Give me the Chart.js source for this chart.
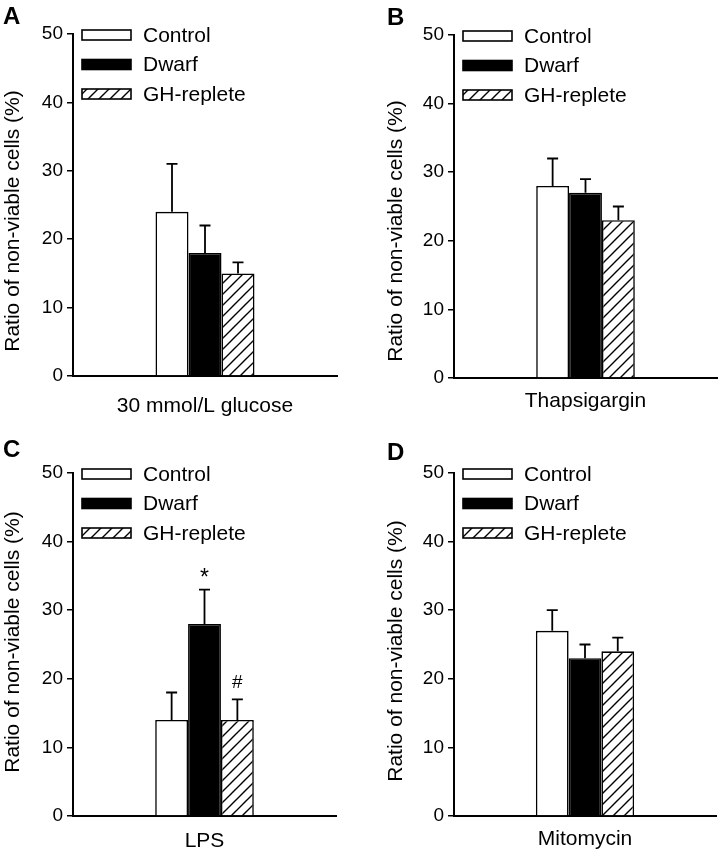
<!DOCTYPE html>
<html>
<head>
<meta charset="utf-8">
<script src="https://cdn.jsdelivr.net/npm/chart.js@4/dist/chart.umd.min.js"></script>
<style>
  html, body { margin: 0; padding: 0; background: #fff; }
  #wrap { position: relative; width: 720px; height: 853px; background: #fff; }
  canvas { position: absolute; }
</style>
</head>
<body>
<div id="wrap">
  <canvas id="pA" width="360" height="420" style="left:0;top:0"></canvas>
  <canvas id="pB" width="360" height="420" style="left:360px;top:0"></canvas>
  <canvas id="pC" width="360" height="433" style="left:0;top:420px"></canvas>
  <canvas id="pD" width="360" height="433" style="left:360px;top:420px"></canvas>
</div>
<script>
// ---------------- data ----------------
const panelLetters = ['A', 'B', 'C', 'D'];
const treatments = ['30 mmol/L glucose', 'Thapsigargin', 'LPS', 'Mitomycin'];
const groupNames = ['Control', 'Dwarf', 'GH-replete'];
const controlMean = [24, 28, 14, 27];
const controlErr  = [7, 4, 4, 3];
const dwarfMean   = [18, 27, 28, 23];
const dwarfErr    = [4, 2, 5, 2];
const ghMean      = [15, 23, 14, 24];
const ghErr       = [1.6, 2, 3, 2];
const controlMarks = ['', '', '', ''];
const dwarfMarks   = ['', '', '*', ''];
const ghMarks      = ['', '', '#', ''];
const yMin = 0, yMax = 50, yStep = 10;
const yTitle = 'Ratio of non-viable cells (%)';

// ---------------- layout (positions only) ----------------
const panelLayout = [
  { id: 'pA', w: 360, h: 420, scaleLeft: 0,  left: 73, top: 34, right: 337, bottom: 376, lx: 3,  ly: 24, xPad: 18, tx: 13, ty: 221 },
  { id: 'pB', w: 360, h: 420, scaleLeft: 23, left: 94, top: 35, right: 357, bottom: 378, lx: 27, ly: 25, xPad: 11, tx: 36, ty: 231 },
  { id: 'pC', w: 360, h: 433, scaleLeft: 0,  left: 73, top: 53, right: 336, bottom: 396, lx: 3,  ly: 37, xPad: 13, tx: 13, ty: 222 },
  { id: 'pD', w: 360, h: 433, scaleLeft: 23, left: 94, top: 53, right: 356, bottom: 396, lx: 27, ly: 40, xPad: 11, tx: 36, ty: 231 }
];

const FONT = "'Liberation Sans', Arial, Helvetica, sans-serif";

function makeHatch() {
  const s = 11;
  const c = document.createElement('canvas');
  c.width = s; c.height = s;
  const g = c.getContext('2d');
  g.fillStyle = '#fff';
  g.fillRect(0, 0, s, s);
  g.strokeStyle = '#000';
  g.lineWidth = 1.4;
  g.beginPath();
  g.moveTo(-1, s + 1); g.lineTo(s + 1, -1);
  g.moveTo(-1, 1); g.lineTo(1, -1);
  g.moveTo(s - 1, s + 1); g.lineTo(s + 1, s - 1);
  g.stroke();
  return g.createPattern(c, 'repeat');
}

const errorBarPlugin = {
  id: 'errorBars',
  afterDatasetsDraw(chart) {
    const ctx = chart.ctx;
    const yScale = chart.scales.y;
    ctx.save();
    ctx.strokeStyle = '#000';
    ctx.lineWidth = 1.8;
    chart.data.datasets.forEach((ds, di) => {
      const meta = chart.getDatasetMeta(di);
      meta.data.forEach((bar, i) => {
        const v = ds.data[i];
        const e = ds.errors[i];
        const yTop = yScale.getPixelForValue(v + e);
        ctx.beginPath();
        ctx.moveTo(bar.x, bar.y);
        ctx.lineTo(bar.x, yTop);
        ctx.moveTo(bar.x - 5.5, yTop);
        ctx.lineTo(bar.x + 5.5, yTop);
        ctx.stroke();
        const mark = ds.marks[i];
        if (mark) {
          ctx.fillStyle = '#000';
          ctx.font = (mark === '*' ? '23px ' : '19px ') + FONT;
          ctx.textAlign = 'center';
          ctx.textBaseline = 'alphabetic';
          const m = ctx.measureText(mark);
          const cy = yTop - 17.5;
          const base = cy + (m.actualBoundingBoxAscent - m.actualBoundingBoxDescent) / 2;
          ctx.fillText(mark, bar.x, base);
        }
      });
    });
    ctx.restore();
  }
};

const legendPlugin = {
  id: 'boxLegend',
  afterDraw(chart, args, opts) {
    const ctx = chart.ctx;
    const a = chart.chartArea;
    ctx.save();
    chart.data.datasets.forEach((ds, i) => {
      const bx = a.left + 9;
      const cy = a.top + 1 + i * 29.5;
      const bw = 49, bh = 10;
      ctx.fillStyle = ds.backgroundColor;
      ctx.fillRect(bx, cy - bh / 2, bw, bh);
      ctx.strokeStyle = '#000';
      ctx.lineWidth = 1.6;
      ctx.strokeRect(bx, cy - bh / 2, bw, bh);
      ctx.fillStyle = '#000';
      ctx.font = '21px ' + FONT;
      ctx.textAlign = 'left';
      ctx.textBaseline = 'middle';
      ctx.fillText(ds.label, a.left + 70, cy + 1);
    });
    // panel letter
    ctx.font = 'bold 24px ' + FONT;
    ctx.textAlign = 'left';
    ctx.textBaseline = 'alphabetic';
    ctx.fillText(opts.letter, opts.lx, opts.ly);
    // y axis title
    ctx.translate(opts.tx, opts.ty);
    ctx.rotate(-Math.PI / 2);
    ctx.font = '21px ' + FONT;
    ctx.textAlign = 'center';
    ctx.textBaseline = 'middle';
    ctx.fillText(opts.title, 0, 0);
    ctx.restore();
  }
};

const hatch = makeHatch();

panelLayout.forEach((L, p) => {
  const ctx = document.getElementById(L.id).getContext('2d');
  new Chart(ctx, {
    type: 'bar',
    data: {
      labels: [treatments[p]],
      datasets: [
        { label: groupNames[0], data: [controlMean[p]], errors: [controlErr[p]], marks: [controlMarks[p]],
          backgroundColor: '#ffffff', borderColor: '#000', borderWidth: 1.6 },
        { label: groupNames[1], data: [dwarfMean[p]], errors: [dwarfErr[p]], marks: [dwarfMarks[p]],
          backgroundColor: '#000000', borderColor: '#000', borderWidth: 1.6 },
        { label: groupNames[2], data: [ghMean[p]], errors: [ghErr[p]], marks: [ghMarks[p]],
          backgroundColor: hatch, borderColor: '#000', borderWidth: 1.6 }
      ]
    },
    options: {
      responsive: false,
      animation: false,
      devicePixelRatio: 1,
      layout: { padding: { left: L.scaleLeft, top: L.top, right: L.w - L.right, bottom: 0 } },
      categoryPercentage: 0.375,
      barPercentage: 1.0,
      plugins: {
        legend: { display: false },
        tooltip: { enabled: false },
        boxLegend: { letter: panelLetters[p], lx: L.lx, ly: L.ly, tx: L.tx, ty: L.ty, title: yTitle }
      },
      scales: {
        x: {
          z: 1,
          grid: { display: false, drawTicks: false },
          border: { display: true, color: '#000', width: 2 },
          ticks: { color: '#000', font: { family: FONT, size: 21 }, padding: L.xPad, maxRotation: 0 },
          afterFit(scale) { scale.height = L.h - L.bottom; }
        },
        y: {
          z: 1,
          min: yMin, max: yMax,
          grid: { display: true, drawOnChartArea: false, drawTicks: true, tickLength: 6, color: '#000', lineWidth: 1.5 },
          border: { display: true, color: '#000', width: 2 },
          ticks: { stepSize: yStep, color: '#000', font: { family: FONT, size: 19 }, padding: 4 },
          title: { display: false, text: yTitle },
          afterFit(scale) { scale.width = L.left - L.scaleLeft; }
        }
      }
    },
    plugins: [errorBarPlugin, legendPlugin]
  });
});
</script>
</body>
</html>
